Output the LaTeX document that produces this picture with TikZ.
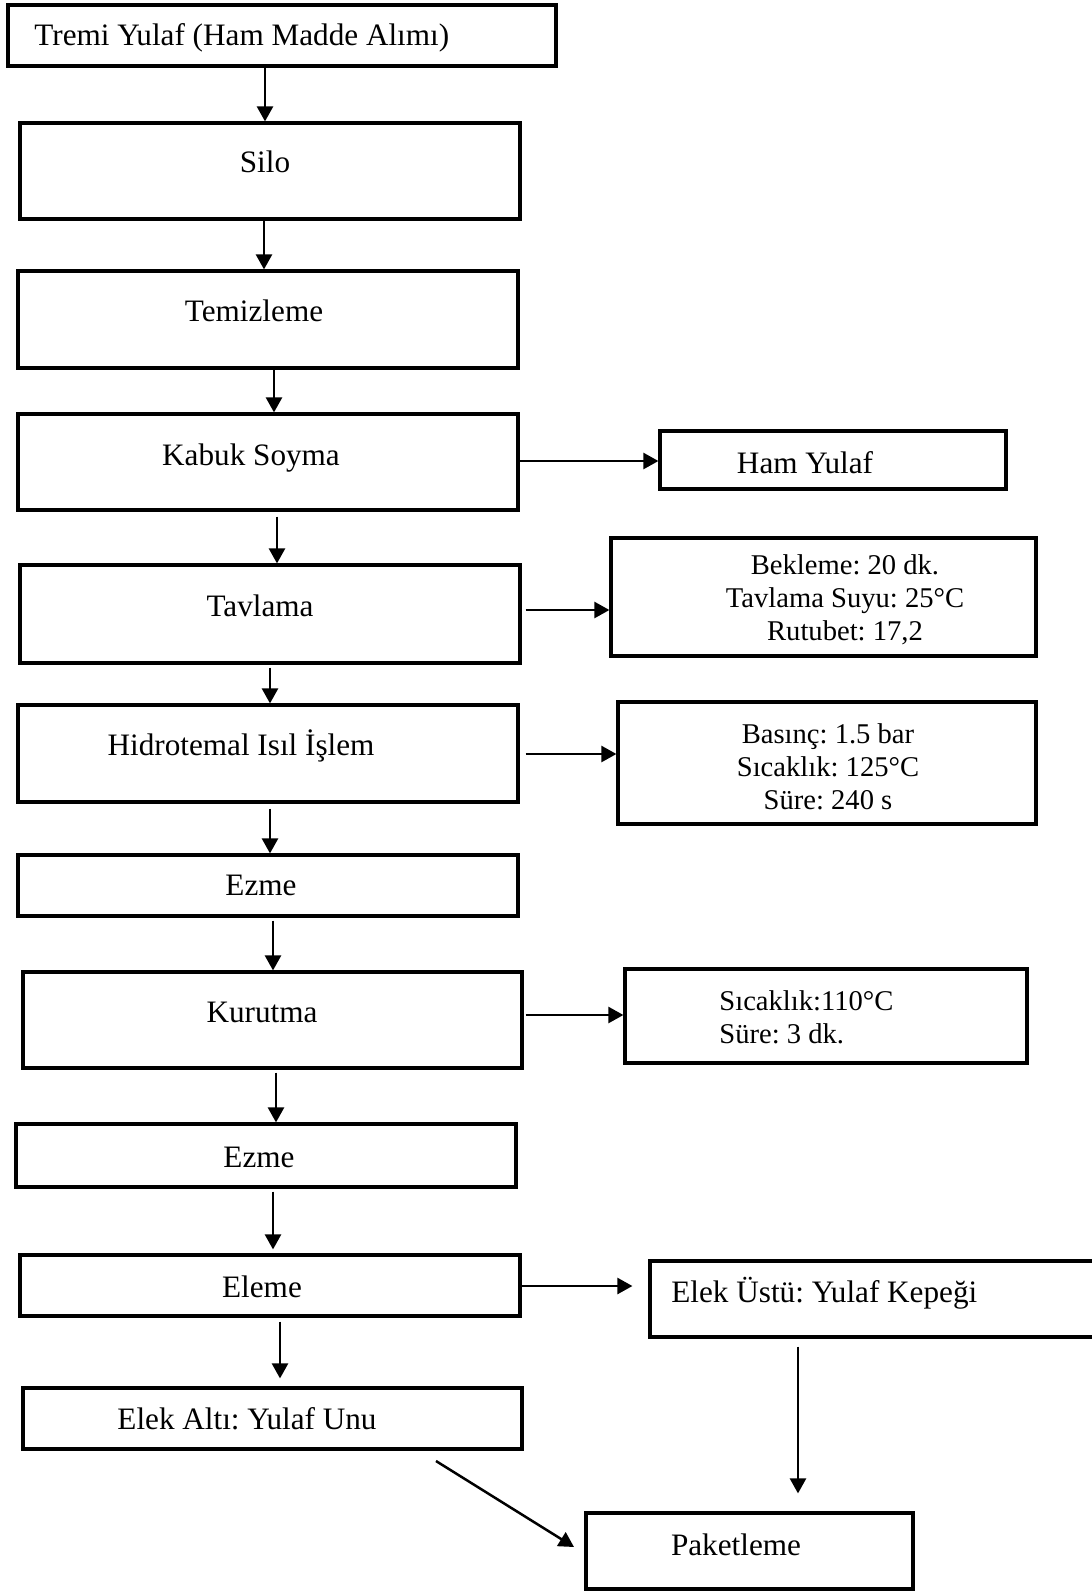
\documentclass[tikz,border=0pt]{standalone}
\usepackage{fontspec}
\setmainfont{Liberation Serif}
\frenchspacing
\usetikzlibrary{arrows.meta,fit}
\begin{document}
\begin{tikzpicture}[x=0.5pt,y=-0.5pt,
  box/.style={draw,line width=1.6pt,inner sep=0pt},
  txt/.style={font=\fontsize{15.6}{19}\selectfont,inner sep=0pt,anchor=base},
  stxt/.style={font=\fontsize{15.6}{19}\selectfont,inner sep=0pt,anchor=base},
  ptxt/.style={font=\fontsize{14.3}{16.6}\selectfont,inner sep=0pt,align=center},
  arr/.style={line width=1.25pt,-{Triangle[length=7.5pt,width=8pt]}}]
\clip (0,0) rectangle (1092,1591);
\fill[white] (0,0) rectangle (1092,1591);
% boxes
\node[box,fit={(8,5) (556,66)}] (tremi) {};
\node[box,fit={(20,123) (520,219)}] (silo) {};
\node[box,fit={(18,271) (518,368)}] (temiz) {};
\node[box,fit={(18,414) (518,510)}] (kabuk) {};
\node[box,fit={(660,431) (1006,489)}] (ham) {};
\node[box,fit={(20,565) (520,663)}] (tavla) {};
\node[box,fit={(611,538) (1036,656)}] (bekle) {};
\node[box,fit={(18,705) (518,802)}] (hidro) {};
\node[box,fit={(618,702) (1036,824)}] (basinc) {};
\node[box,fit={(18,855) (518,916)}] (ezme) {};
\node[box,fit={(23,972) (522,1068)}] (kurut) {};
\node[box,fit={(625,969) (1027,1063)}] (sicak) {};
\node[box,fit={(16,1124) (516,1187)}] (ezmeb) {};
\node[box,fit={(20,1255) (520,1316)}] (eleme) {};
\node[box,fit={(650,1261) (1100,1337)}] (ustu) {};
\node[box,fit={(23,1388) (522,1449)}] (alti) {};
\node[box,fit={(586,1513) (913,1589)}] (paket) {};
% texts
\node[txt,anchor=base west] at (34,45.5) {Tremi Yulaf (Ham Madde Alımı)};
\node[txt] at (265,172) {Silo};
\node[txt] at (254,321) {Temizleme};
\node[txt] at (251,465) {Kabuk Soyma};
\node[txt] at (805,473) {Ham Yulaf};
\node[txt] at (260,616) {Tavlama};
\node[ptxt] at (845,600) {Bekleme: 20 dk.\\Tavlama Suyu: 25°C\\Rutubet: 17,2};
\node[txt] at (241,755) {Hidrotemal Isıl İşlem};
\node[ptxt] at (828,767) {Basınç: 1.5 bar\\Sıcaklık: 125°C\\Süre: 240 s};
\node[txt] at (261,895) {Ezme};
\node[txt] at (262,1022) {Kurutma};
\node[ptxt,align=left,anchor=west] at (719,1017) {Sıcaklık:110°C\\Süre: 3 dk.};
\node[txt] at (259,1167) {Ezme};
\node[txt] at (262,1297) {Eleme};
\node[stxt,anchor=base west] at (671,1302) {Elek Üstü: Yulaf Kepeği};
\node[stxt] at (247,1429) {Elek Altı: Yulaf Unu};
\node[txt] at (736,1555) {Paketleme};
% vertical arrows
\draw[arr] (265,0 |- tremi.south) -- (265,0 |- silo.north);
\draw[arr] (264,0 |- silo.south) -- (264,0 |- temiz.north);
\draw[arr] (274,0 |- temiz.south) -- (274,0 |- kabuk.north);
\draw[arr,shorten <=2.5pt] (277,0 |- kabuk.south) -- (277,0 |- tavla.north);
\draw[arr,shorten <=1.5pt] (270,0 |- tavla.south) -- (270,0 |- hidro.north);
\draw[arr,shorten <=2.5pt] (270,0 |- hidro.south) -- (270,0 |- ezme.north);
\draw[arr,shorten <=1.5pt] (273,0 |- ezme.south) -- (273,0 |- kurut.north);
\draw[arr,shorten <=1.5pt] (276,0 |- kurut.south) -- (276,0 |- ezmeb.north);
\draw[arr,shorten <=1.5pt,shorten >=2pt] (273,0 |- ezmeb.south) -- (273,0 |- eleme.north);
\draw[arr,shorten <=2pt,shorten >=4pt] (280,0 |- eleme.south) -- (280,0 |- alti.north);
% horizontal arrows
\draw[arr] (kabuk.east |- 0,461) -- (ham.west |- 0,461);
\draw[arr,shorten <=2pt] (tavla.east |- 0,610) -- (bekle.west |- 0,610);
\draw[arr,shorten <=3pt] (hidro.east |- 0,754) -- (basinc.west |- 0,754);
\draw[arr,shorten <=1pt] (kurut.east |- 0,1015) -- (sicak.west |- 0,1015);
\draw[arr,shorten >=8pt] (eleme.east |- 0,1286) -- (ustu.west |- 0,1286);
% to packaging
\draw[arr,shorten <=4pt,shorten >=9pt] (798,0 |- ustu.south) -- (798,0 |- paket.north);
\coordinate (d1) at (436,1461);
\coordinate (d2) at (574,1547);
\draw[arr] (d1) -- (d2);
\end{tikzpicture}
\end{document}
